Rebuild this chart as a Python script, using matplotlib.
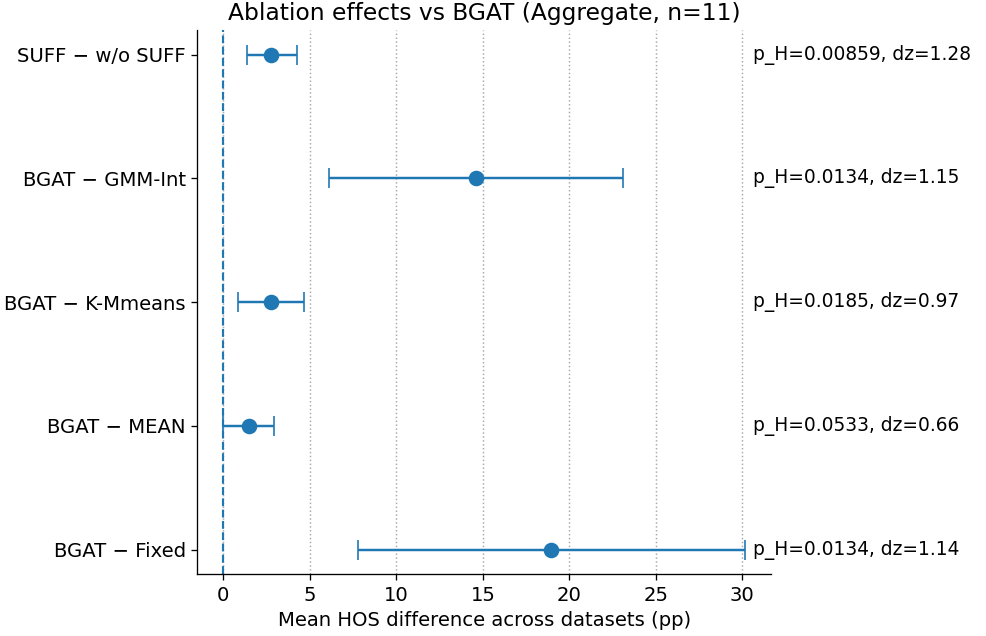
import numpy as np
import matplotlib
matplotlib.use('Agg')
from matplotlib import pyplot as plt

labels = ['SUFF − w/o SUFF', 'BGAT − GMM-Int', 'BGAT − K-Mmeans', 'BGAT − MEAN', 'BGAT − Fixed']
means = [2.77, 14.6, 2.77, 1.50, 18.95]
lo = [1.38, 6.11, 0.86, 0.0, 7.78]
hi = [4.27, 23.1, 4.67, 2.94, 30.15]
notes = ['p_H=0.00859, dz=1.28', 'p_H=0.0134, dz=1.15', 'p_H=0.0185, dz=0.97',
         'p_H=0.0533, dz=0.66', 'p_H=0.0134, dz=1.14']

if __name__ == '__main__':
    plt.rcParams['font.size'] = 12
    fig, ax = plt.subplots(figsize=(986 / 118, 636 / 118), dpi=118)
    y = np.arange(len(labels))
    m = np.array(means)
    err = np.vstack([m - np.array(lo), np.array(hi) - m])
    ax.errorbar(m, y, xerr=err, fmt='o', color='C0', markersize=8.5, capsize=6, elinewidth=1.5)
    ax.axvline(0, color='C0', linestyle='--', linewidth=1.3)
    ax.set_yticks(y)
    ax.set_yticklabels(labels)
    ax.invert_yaxis()
    x_txt = max(hi) + 0.45
    for i in range(len(labels)):
        ax.text(x_txt, y[i], notes[i], va='center', ha='left', fontsize=11.4)
    ax.grid(axis='x', linestyle=':', color='#aaaaaa', linewidth=0.9)
    ax.set_axisbelow(True)
    ax.spines['top'].set_visible(False)
    ax.spines['right'].set_visible(False)
    ax.set_xlabel('Mean HOS difference across datasets (pp)')
    ax.set_title('Ablation effects vs BGAT (Aggregate, n=11)', fontsize=14.3)
    plt.subplots_adjust(left=0.2, right=0.782, top=0.953, bottom=0.097)
    plt.savefig('out.png', dpi=118)
